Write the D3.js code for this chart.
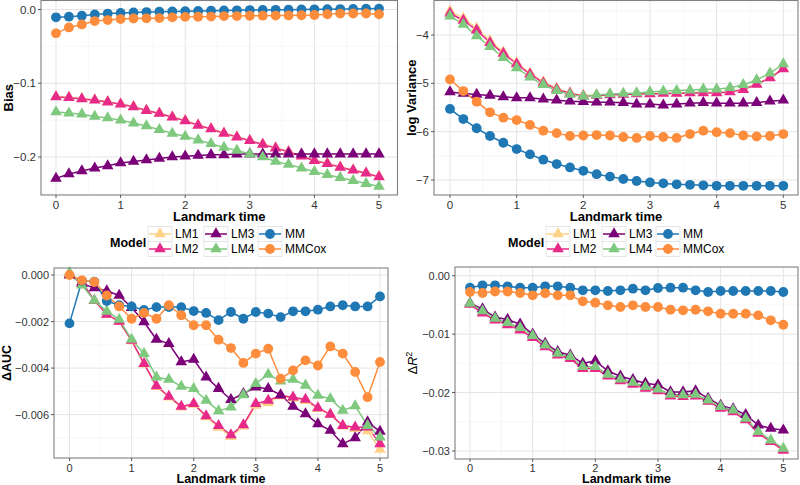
<!DOCTYPE html>
<html><head><meta charset="utf-8">
<script src="https://cdn.jsdelivr.net/npm/d3@7"></script>
<style>
body{margin:0;background:#fff}
svg{display:block}
text{font-family:"Liberation Sans",Arial,Helvetica,sans-serif}
</style>
</head><body>
<svg id="chart" width="800" height="485"></svg>
<script>
// ---------------- data ----------------
const times = [0,0.2,0.4,0.6,0.8,1,1.2,1.4,1.6,1.8,2,2.2,2.4,2.6,2.8,3,3.2,3.4,3.6,3.8,4,4.2,4.4,4.6,4.8,5];
const models = ["LM1","LM2","LM3","LM4","MM","MMCox"];
const modelColors = ["#FDD38A","#E7298A","#7A0177","#7FC97F","#1F77B4","#FD8D3C"];
const modelShapes = ["triangle","triangle","triangle","triangle","circle","circle"];

const bias_LM1 = [-0.1181,-0.1190,-0.1208,-0.1225,-0.1250,-0.1280,-0.1315,-0.1365,-0.1405,-0.1455,-0.1505,-0.1565,-0.1615,-0.1675,-0.1725,-0.1775,-0.1825,-0.1875,-0.1925,-0.1985,-0.2045,-0.2085,-0.2135,-0.2175,-0.2215,-0.2265];
const bias_LM2 = [-0.1186,-0.1195,-0.1213,-0.1230,-0.1255,-0.1285,-0.1320,-0.1370,-0.1410,-0.1460,-0.1510,-0.1570,-0.1620,-0.1680,-0.1730,-0.1780,-0.1830,-0.1880,-0.1930,-0.1990,-0.2050,-0.2090,-0.2140,-0.2180,-0.2220,-0.2270];
const bias_LM3 = [-0.229,-0.223,-0.219,-0.215,-0.212,-0.208,-0.206,-0.204,-0.202,-0.200,-0.199,-0.198,-0.197,-0.197,-0.196,-0.196,-0.196,-0.196,-0.196,-0.196,-0.196,-0.196,-0.196,-0.196,-0.196,-0.196];
const bias_LM4 = [-0.139,-0.1405,-0.142,-0.145,-0.147,-0.150,-0.154,-0.158,-0.163,-0.168,-0.172,-0.177,-0.182,-0.187,-0.191,-0.196,-0.200,-0.206,-0.210,-0.215,-0.220,-0.224,-0.228,-0.232,-0.236,-0.240];
const bias_MM = [-0.0106,-0.0097,-0.0084,-0.0068,-0.0055,-0.0046,-0.0040,-0.0035,-0.0031,-0.0027,-0.0023,-0.0020,-0.0017,-0.0014,-0.0011,-0.0008,-0.0006,-0.0004,-0.0002,0.0000,0.0002,0.0004,0.0006,0.0008,0.0010,0.0012];
const bias_MMCox = [-0.0323,-0.0243,-0.0202,-0.0157,-0.0143,-0.0130,-0.0122,-0.0120,-0.0117,-0.0107,-0.0100,-0.0098,-0.0096,-0.0090,-0.0089,-0.0085,-0.0084,-0.0082,-0.0080,-0.0078,-0.0075,-0.0064,-0.0055,-0.0054,-0.0054,-0.0064];

const logvar_LM1 = [-3.50,-3.65,-3.86,-4.12,-4.35,-4.58,-4.79,-4.97,-5.10,-5.20,-5.25,-5.24,-5.23,-5.22,-5.21,-5.21,-5.20,-5.20,-5.19,-5.19,-5.19,-5.17,-5.12,-5.01,-4.88,-4.69];
const logvar_LM2 = [-3.55,-3.70,-3.90,-4.16,-4.38,-4.60,-4.81,-4.99,-5.12,-5.21,-5.26,-5.25,-5.24,-5.23,-5.22,-5.22,-5.21,-5.21,-5.20,-5.20,-5.20,-5.18,-5.13,-5.02,-4.89,-4.70];
const logvar_LM3 = [-5.18,-5.21,-5.23,-5.25,-5.28,-5.30,-5.30,-5.33,-5.35,-5.37,-5.38,-5.39,-5.39,-5.40,-5.43,-5.43,-5.45,-5.43,-5.41,-5.40,-5.41,-5.41,-5.41,-5.40,-5.37,-5.35];
const logvar_LM4 = [-3.61,-3.78,-4.02,-4.24,-4.47,-4.68,-4.87,-5.03,-5.15,-5.23,-5.27,-5.24,-5.22,-5.21,-5.20,-5.18,-5.16,-5.15,-5.14,-5.12,-5.12,-5.09,-5.03,-4.93,-4.79,-4.60];
const logvar_MM = [-5.53,-5.74,-5.93,-6.09,-6.23,-6.36,-6.47,-6.58,-6.67,-6.74,-6.81,-6.88,-6.93,-6.98,-7.02,-7.05,-7.07,-7.09,-7.10,-7.11,-7.12,-7.12,-7.12,-7.12,-7.12,-7.12];
const logvar_MMCox = [-4.92,-5.16,-5.38,-5.60,-5.71,-5.76,-5.86,-5.98,-6.03,-6.09,-6.08,-6.07,-6.08,-6.11,-6.13,-6.09,-6.11,-6.13,-6.05,-5.98,-6.01,-6.03,-6.08,-6.10,-6.09,-6.05];

const dauc_LM1 = [0.0000,-0.0003,-0.0011,-0.0017,-0.0020,-0.00283,-0.00383,-0.0048,-0.00525,-0.00568,-0.00556,-0.0061,-0.00655,-0.00695,-0.0065,-0.0056,-0.0055,-0.0052,-0.0053,-0.0054,-0.00575,-0.0060,-0.0065,-0.0066,-0.0067,-0.0075];
const dauc_LM2 = [0.0000,-0.0003,-0.0011,-0.00169,-0.00199,-0.00281,-0.00381,-0.00477,-0.00522,-0.00565,-0.00553,-0.00606,-0.00648,-0.00687,-0.00644,-0.00553,-0.00539,-0.00518,-0.00525,-0.00535,-0.00571,-0.00599,-0.00647,-0.00654,-0.00654,-0.00726];
const dauc_LM3 = [0.0000,-0.00037,-0.00056,-0.00068,-0.00088,-0.0014,-0.00202,-0.00277,-0.00295,-0.00374,-0.00363,-0.00439,-0.00488,-0.00536,-0.0051,-0.00482,-0.00489,-0.00515,-0.00565,-0.00597,-0.0064,-0.00668,-0.00726,-0.0070,-0.00632,-0.00672];
const dauc_LM4 = [0.0001,-0.00044,-0.00109,-0.00156,-0.00191,-0.00277,-0.00338,-0.00439,-0.00449,-0.00479,-0.00489,-0.00539,-0.00584,-0.00568,-0.00515,-0.00467,-0.00427,-0.00456,-0.00449,-0.00474,-0.00518,-0.00532,-0.00582,-0.00563,-0.00647,-0.00697];
const dauc_MM = [-0.00208,-0.00025,-0.00029,-0.00112,-0.0013,-0.00135,-0.0015,-0.00138,-0.00138,-0.00138,-0.00155,-0.00163,-0.00194,-0.00159,-0.00188,-0.00159,-0.00166,-0.00181,-0.00156,-0.00156,-0.00149,-0.00135,-0.0013,-0.00135,-0.00135,-0.00092];
const dauc_MMCox = [0.0000,-0.00023,-0.0003,-0.00088,-0.00135,-0.00188,-0.00163,-0.00188,-0.0013,-0.00173,-0.00216,-0.00216,-0.00278,-0.00314,-0.00378,-0.00338,-0.00317,-0.00446,-0.0041,-0.00367,-0.00389,-0.00307,-0.00338,-0.00417,-0.00525,-0.00374];

const dr2_LM1 = [-0.0048,-0.0063,-0.0075,-0.0083,-0.0092,-0.0105,-0.0121,-0.0135,-0.0141,-0.0158,-0.0158,-0.0171,-0.0179,-0.0185,-0.0192,-0.0196,-0.0205,-0.0206,-0.0205,-0.0214,-0.0226,-0.0232,-0.0246,-0.0269,-0.0283,-0.0298];
const dr2_LM2 = [-0.0049,-0.0064,-0.0076,-0.0084,-0.0093,-0.0106,-0.0122,-0.0136,-0.0142,-0.0159,-0.0159,-0.0172,-0.0180,-0.0186,-0.0193,-0.0197,-0.0206,-0.0207,-0.0206,-0.0215,-0.0227,-0.0233,-0.0247,-0.0270,-0.0284,-0.0299];
const dr2_LM3 = [-0.0047,-0.0057,-0.0071,-0.0075,-0.0083,-0.0100,-0.0116,-0.0130,-0.0136,-0.0150,-0.0146,-0.0163,-0.0172,-0.0178,-0.0184,-0.0187,-0.0199,-0.0199,-0.0197,-0.0210,-0.0222,-0.0228,-0.0238,-0.02557,-0.02614,-0.02642];
const dr2_LM4 = [-0.00473,-0.00604,-0.0073,-0.00804,-0.0089,-0.01027,-0.01187,-0.01329,-0.01387,-0.01558,-0.01558,-0.01689,-0.01769,-0.01826,-0.0190,-0.0194,-0.02031,-0.0204,-0.02031,-0.02128,-0.02243,-0.0230,-0.02442,-0.02671,-0.02813,-0.02956];
const dr2_MM = [-0.00205,-0.00165,-0.00165,-0.00182,-0.00205,-0.00205,-0.00182,-0.00182,-0.00205,-0.0025,-0.0025,-0.00262,-0.0025,-0.00222,-0.0025,-0.00211,-0.00205,-0.00205,-0.0025,-0.00279,-0.00262,-0.00262,-0.00262,-0.00262,-0.00262,-0.00279];
const dr2_MMCox = [-0.00279,-0.00296,-0.0027,-0.0027,-0.00296,-0.00336,-0.0030,-0.00336,-0.00336,-0.00439,-0.00462,-0.00507,-0.00536,-0.00507,-0.00536,-0.00536,-0.00582,-0.00593,-0.00582,-0.0061,-0.00651,-0.00651,-0.00651,-0.00679,-0.00764,-0.00839];

const xTicks = [0,1,2,3,4,5];
const biasTicks = [0,-0.1,-0.2];
const logvarTicks = [-4,-5,-6,-7];
const daucTicks = [0,-0.002,-0.004,-0.006];
const dr2Ticks = [0,-0.01,-0.02,-0.03];
const xTitle = "Landmark time";
const legendTitle = "Model";

// ---------------- layout ----------------
const panels = [
  {series:[bias_LM1,bias_LM2,bias_LM3,bias_LM4,bias_MM,bias_MMCox], ticks:biasTicks, fmt:".1f", title:"Bias",
   box:[41,0.5,397.5,195], xr:[56,379], yd:[-0.2,0], yr:[157,9.5], tickFs:11.5, titleFs:13, xtb:208.5, xttb:221, ytx:12.5},
  {series:[logvar_LM1,logvar_LM2,logvar_LM3,logvar_LM4,logvar_MM,logvar_MMCox], ticks:logvarTicks, fmt:"d", title:"log Variance",
   box:[434,0.5,798,195], xr:[450,783.3], yd:[-7,-4], yr:[180,35], tickFs:11.5, titleFs:13, xtb:208.5, xttb:221, ytx:415.5},
  {series:[dauc_LM1,dauc_LM2,dauc_LM3,dauc_LM4,dauc_MM,dauc_MMCox], ticks:daucTicks, fmt:".3f", title:"ΔAUC",
   box:[54,268,388,458], xr:[69.5,380], yd:[-0.006,0], yr:[414.6,275], tickFs:11, titleFs:12.5, xtb:471.5, xttb:483, ytx:10.5},
  {series:[dr2_LM1,dr2_LM2,dr2_LM3,dr2_LM4,dr2_MM,dr2_MMCox], ticks:dr2Ticks, fmt:".2f", title:"R2",
   box:[455,267,798,459], xr:[470,783.3], yd:[-0.03,0], yr:[451,275.7], tickFs:11, titleFs:12.5, xtb:471.5, xttb:483, ytx:417}
];

const svg = d3.select("#chart");
svg.append("rect").attr("width",800).attr("height",485).attr("fill","#fff");

function symbolPath(shape){
  return shape==="triangle" ? d3.symbol(d3.symbolTriangle, 58)() : d3.symbol(d3.symbolCircle, 76)();
}

panels.forEach(p=>{
  const [x0,y0,x1,y1] = p.box;
  const x = d3.scaleLinear().domain([0,5]).range(p.xr);
  const y = d3.scaleLinear().domain(p.yd).range(p.yr);
  const g = svg.append("g");
  g.append("rect").attr("x",x0).attr("y",y0).attr("width",x1-x0).attr("height",y1-y0).attr("fill","#fff");
  // minor grid
  const xMinor = d3.range(-0.5,5.6,1).filter(v=>x(v)>x0+0.5 && x(v)<x1-0.5);
  const step = p.ticks[0]-p.ticks[1];
  const yMinor = [];
  for(let i=-1;i<p.ticks.length;i++){ yMinor.push(p.ticks[0]-step*(i+0.5)); }
  const yMinorIn = yMinor.filter(v=>y(v)>y0+0.5 && y(v)<y1-0.5);
  g.selectAll(".xm").data(xMinor).enter().append("line")
    .attr("x1",d=>x(d)).attr("x2",d=>x(d)).attr("y1",y0).attr("y2",y1).attr("stroke","#f2f2f2").attr("stroke-width",0.6);
  g.selectAll(".ym").data(yMinorIn).enter().append("line")
    .attr("y1",d=>y(d)).attr("y2",d=>y(d)).attr("x1",x0).attr("x2",x1).attr("stroke","#f2f2f2").attr("stroke-width",0.6);
  // major grid
  g.selectAll(".xg").data(xTicks).enter().append("line")
    .attr("x1",d=>x(d)).attr("x2",d=>x(d)).attr("y1",y0).attr("y2",y1).attr("stroke","#e5e5e5").attr("stroke-width",1);
  g.selectAll(".yg").data(p.ticks).enter().append("line")
    .attr("y1",d=>y(d)).attr("y2",d=>y(d)).attr("x1",x0).attr("x2",x1).attr("stroke","#e5e5e5").attr("stroke-width",1);
  // lines
  const line = d3.line().x((d,i)=>x(times[i])).y(d=>y(d));
  p.series.forEach((s,k)=>{
    g.append("path").attr("d",line(s)).attr("fill","none").attr("stroke",modelColors[k]).attr("stroke-width",1.5).attr("stroke-linejoin","round");
  });
  // points
  p.series.forEach((s,k)=>{
    const sp = symbolPath(modelShapes[k]);
    g.selectAll(null).data(s).enter().append("path")
      .attr("d",sp).attr("transform",(d,i)=>`translate(${x(times[i])},${y(d)})`)
      .attr("fill",modelColors[k]);
  });
  // border
  g.append("rect").attr("x",x0).attr("y",y0).attr("width",x1-x0).attr("height",y1-y0)
    .attr("fill","none").attr("stroke","#808080").attr("stroke-width",1.1);
  // ticks
  const fmt = d3.format(p.fmt);
  g.selectAll(".xt").data(xTicks).enter().append("line")
    .attr("x1",d=>x(d)).attr("x2",d=>x(d)).attr("y1",y1).attr("y2",y1+3).attr("stroke","#333").attr("stroke-width",0.8);
  g.selectAll(".xl").data(xTicks).enter().append("text")
    .attr("x",d=>x(d)).attr("y",p.xtb).attr("text-anchor","middle").attr("font-size",p.tickFs).attr("fill","#333").text(d=>d);
  g.selectAll(".yt").data(p.ticks).enter().append("line")
    .attr("y1",d=>y(d)).attr("y2",d=>y(d)).attr("x1",x0-3).attr("x2",x0).attr("stroke","#333").attr("stroke-width",0.8);
  g.selectAll(".yl").data(p.ticks).enter().append("text")
    .attr("x",x0-5).attr("y",d=>y(d)+4).attr("text-anchor","end").attr("font-size",p.tickFs).attr("fill","#333").text(d=>fmt(d));
  // x title
  g.append("text").attr("x",(x0+x1)/2).attr("y",p.xttb).attr("text-anchor","middle")
    .attr("font-size",p.titleFs).attr("font-weight","bold").attr("fill","#000").text(xTitle);
  // y title
  const yt = g.append("text").attr("transform",`translate(${p.ytx},${(y0+y1)/2}) rotate(-90)`)
    .attr("text-anchor","middle").attr("font-size",p.titleFs).attr("fill","#000");
  if(p.title==="R2"){
    yt.append("tspan").text("Δ");
    yt.append("tspan").attr("font-style","italic").text("R");
    yt.append("tspan").attr("dy",-5).attr("font-size",p.titleFs*0.72).text("2");
  } else {
    yt.attr("font-weight","bold").text(p.title);
  }
});

// ---------------- legends ----------------
function drawLegend(ox){
  const g = svg.append("g").attr("transform",`translate(${ox},0)`);
  const rowC = [234, 249];
  const colX = [148, 204, 258];
  const kw = 24, kh = 15;
  g.append("text").attr("x",110).attr("y",242+4.5).attr("font-size",12.5).attr("font-weight","bold").text(legendTitle);
  models.forEach((m,k)=>{
    const col = Math.floor(k/2), row = k%2;
    const kx = colX[col], cy = rowC[row];
    g.append("rect").attr("x",kx).attr("y",cy-kh/2).attr("width",kw).attr("height",kh)
      .attr("fill","#fff").attr("stroke","#e0e0e0").attr("stroke-width",0.8);
    g.append("line").attr("x1",kx+1).attr("x2",kx+kw-1).attr("y1",cy).attr("y2",cy)
      .attr("stroke",modelColors[k]).attr("stroke-width",1.5);
    g.append("path").attr("d",symbolPath(modelShapes[k])).attr("transform",`translate(${kx+kw/2},${cy})`).attr("fill",modelColors[k]);
    g.append("text").attr("x",kx+kw+3).attr("y",cy+4).attr("font-size",12).attr("fill","#000").text(m);
  });
}
drawLegend(0);
drawLegend(398);
</script>
</body></html>
